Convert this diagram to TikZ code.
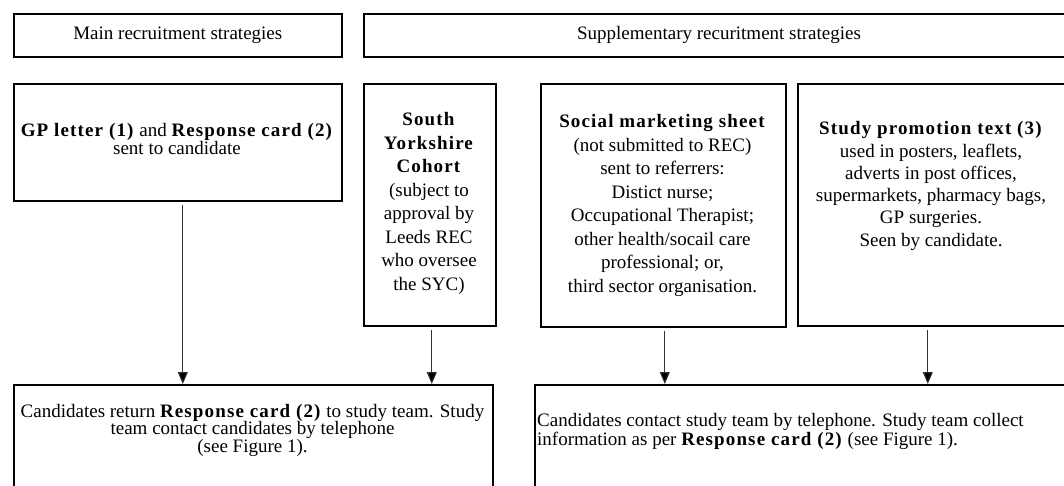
\documentclass[tikz,border=0pt]{standalone}
\usepackage{fontspec}
\setmainfont{Liberation Serif}[BoldFeatures={LetterSpace=6}]
\usetikzlibrary{arrows.meta}
\begin{document}
\begin{tikzpicture}[x=1pt,y=-1pt,
  box/.style={draw, line width=1.6pt, inner sep=0pt, anchor=north west},
  txt/.style={align=center, inner sep=0pt, font=\fontsize{19}{23.5}\selectfont},
  conn/.style={line width=1pt, draw=black!80, -{Triangle[length=12pt,width=10pt,fill=black]}, shorten <=3pt}]
\useasboundingbox (0,0) rectangle (1064,486);
\clip (0,0) rectangle (1064,486);
% boxes
\node[box, minimum width=328pt, minimum height=43pt] (h1) at (13,13) {};
\node[box, minimum width=712pt, minimum height=43pt] (h2) at (363,13) {};
\node[box, minimum width=328pt, minimum height=117pt] (gp) at (13,83) {};
\node[box, minimum width=132pt, minimum height=242pt] (syc) at (363,83) {};
\node[box, minimum width=245pt, minimum height=243pt] (soc) at (540,83) {};
\node[box, minimum width=268pt, minimum height=242pt] (stu) at (797,83) {};
\node[box, minimum width=479pt, minimum height=130pt] (bl) at (13,384) {};
\node[box, minimum width=540pt, minimum height=130pt] (br) at (534,384) {};
% texts
\node[txt] (h1t) at (h1.center) {Main recruitment strategies};
\node[txt] (h2t) at (719,34.5) {Supplementary recuritment strategies};
\node[txt, font=\fontsize{19}{18}\selectfont] (gpt) at (177,139) {\textbf{GP letter (1)} and \textbf{Response card (2)}\\sent to candidate};
\node[txt] (syct) at (429,203.5) {\textbf{South}\\\textbf{Yorkshire}\\\textbf{Cohort}\\(subject to\\approval by\\Leeds REC\\who oversee\\the SYC)};
\node[txt] (soct) at (662.5,205.5) {\textbf{Social marketing sheet}\\(not submitted to REC)\\sent to referrers:\\Distict nurse;\\Occupational Therapist;\\other health/socail care\\professional; or,\\third sector organisation.};
\node[txt, font=\fontsize{19}{22.3}\selectfont] (stut) at (931,186) {\textbf{Study promotion text (3)}\\used in posters, leaflets,\\adverts in post offices,\\supermarkets, pharmacy bags,\\GP surgeries.\\Seen by candidate.};
\node[txt, font=\fontsize{19}{17.5}\selectfont] (blt) at (252.5,430) {Candidates return \textbf{Response card (2)} to study team. Study\\team contact candidates by telephone\\(see Figure 1).};
\node[txt, align=left, anchor=west, font=\fontsize{19}{19}\selectfont] (brt) at (537,431.5) {Candidates contact study team by telephone. Study team collect\\information as per \textbf{Response card (2)} (see Figure 1).};
% connectors
\draw[conn] ([xshift=5pt]gp.south) -- ([xshift=5pt]gp.south |- bl.north);
\draw[conn] ([xshift=2pt]syc.south) -- ([xshift=2pt]syc.south |- bl.north);
\draw[conn] ([xshift=1.5pt]soc.south) -- ([xshift=1.5pt]soc.south |- br.north);
\draw[conn] ([xshift=-4pt]stu.south) -- ([xshift=-4pt]stu.south |- br.north);
\end{tikzpicture}
\end{document}
